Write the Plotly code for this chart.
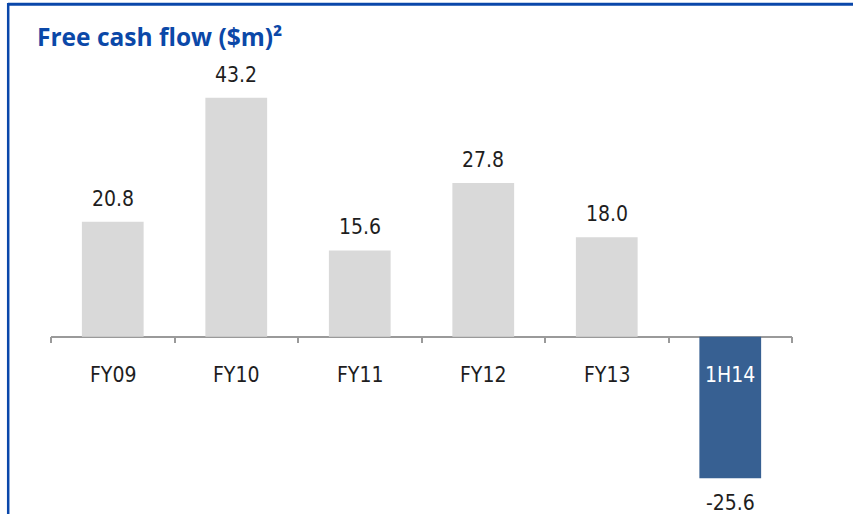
import plotly.graph_objects as go

# Free cash flow by period ($m)
periods = ["FY09", "FY10", "FY11", "FY12", "FY13", "1H14"]
free_cash_flow = [20.8, 43.2, 15.6, 27.8, 18.0, -25.6]
value_labels = ["20.8", "43.2", "15.6", "27.8", "18.0", "-25.6"]

W, H = 853, 514
M_L, M_R, M_T, M_B = 51, 61, 50, 20
PLOT_H = H - M_T - M_B
PX_PER_UNIT = 5.53
ZERO_FROM_TOP = 286.7  # pixel offset of the zero line inside the plot area

y_max = ZERO_FROM_TOP / PX_PER_UNIT
y_min = -(PLOT_H - ZERO_FROM_TOP) / PX_PER_UNIT
zero_pos = (0 - y_min) / (y_max - y_min)

bar_colors = ["#D9D9D9" if v >= 0 else "#376092" for v in free_cash_flow]
label_colors = ["#1E1E1E" if v >= 0 else "#FFFFFF" for v in free_cash_flow]

TEXT_FONT = "DejaVu Sans Condensed, DejaVu Sans"
TEXT_SIZE = 21

fig = go.Figure(
    go.Bar(
        x=periods,
        y=free_cash_flow,
        marker=dict(color=bar_colors, line=dict(width=0)),
        width=0.5,
        hoverinfo="skip",
    )
)

# value labels above positive bars, below the negative one
for p, v, t in zip(periods, free_cash_flow, value_labels):
    fig.add_annotation(
        x=p, y=v, text=t, showarrow=False,
        yshift=23 if v >= 0 else -25,
        yanchor="middle", xanchor="center",
        font=dict(family=TEXT_FONT, size=TEXT_SIZE, color="#1E1E1E"),
    )

# category names just under the zero line
for p, c in zip(periods, label_colors):
    fig.add_annotation(
        x=p, y=0, text=p, showarrow=False,
        yshift=-38, yanchor="middle", xanchor="center",
        font=dict(family=TEXT_FONT, size=TEXT_SIZE, color=c),
    )

# frame lines along the top and left edges
def px_x(px):
    return (px - M_L) / (W - M_L - M_R)

def px_y(py):
    return (H - M_B - py) / PLOT_H

frame_color = "#0A47AA"
fig.add_shape(type="line", xref="paper", yref="paper",
              x0=px_x(8), x1=px_x(W + 5), y0=px_y(4.2), y1=px_y(4.2),
              line=dict(color=frame_color, width=3))
fig.add_shape(type="line", xref="paper", yref="paper",
              x0=px_x(8.2), x1=px_x(8.2), y0=px_y(3), y1=px_y(H + 5),
              line=dict(color=frame_color, width=2.5))

fig.update_layout(
    width=W, height=H,
    margin=dict(l=M_L, r=M_R, t=M_T, b=M_B),
    paper_bgcolor="white", plot_bgcolor="white",
    showlegend=False,
    title=dict(
        text="Free cash flow ($m)²",
        xref="container", yref="container",
        x=37 / W, y=1 - 37 / H, xanchor="left", yanchor="middle",
        font=dict(family="Open Sans", size=24.5, color="#0B48A8", weight="bold"),
    ),
    xaxis=dict(
        type="category", range=[-0.5, 5.5],
        showline=True, linecolor="#9A9A9A", linewidth=1.5,
        ticks="outside", tickson="boundaries", ticklen=6,
        tickcolor="#9A9A9A", tickwidth=1.5,
        showticklabels=False, showgrid=False,
        anchor="free", position=zero_pos, layer="below traces",
        fixedrange=True,
    ),
    yaxis=dict(
        range=[y_min, y_max], visible=False,
        showgrid=False, zeroline=False, fixedrange=True,
    ),
)

fig.write_html("out.html")
